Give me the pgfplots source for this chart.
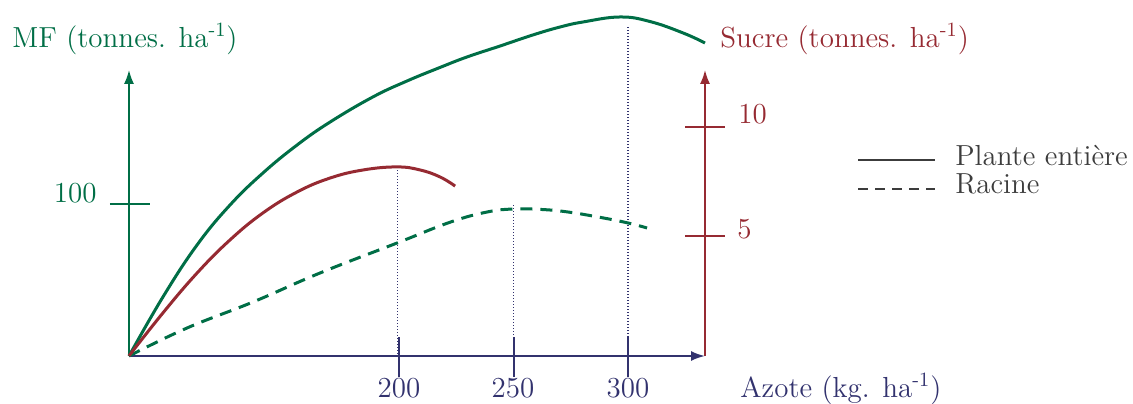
\documentclass[border=0pt]{standalone}
\usepackage{pgfplots}
\pgfplotsset{compat=1.18}
\usetikzlibrary{arrows.meta}
\definecolor{cgreen}{RGB}{0,110,70}
\definecolor{cred}{RGB}{150,42,50}
\definecolor{cnavy}{RGB}{50,50,110}
\definecolor{cgray}{RGB}{60,60,60}
\begin{document}
\begin{tikzpicture}[every node/.style={font=\fontsize{14.5}{17}\selectfont, inner sep=0pt}]
\useasboundingbox (0,0) rectangle (566.5pt,201.5pt);
\pgfplotsset{base/.style={at={(64.5pt,23.5pt)}, anchor=south west, scale only axis,
  width=288pt, height=170.5pt, xmin=82.1, xmax=333.6, axis lines=none, clip=false}}
\begin{axis}[base, ymin=0, ymax=224.3]
% drop lines
\addplot[cnavy, line width=0.75pt, dash pattern=on 0.7pt off 0.8pt] coordinates {(199.3,124.3) (199.3,0)};
\addplot[cnavy, line width=0.75pt, dash pattern=on 0.7pt off 0.8pt] coordinates {(250,99.3) (250,0)};
\addplot[cnavy, line width=0.75pt, dash pattern=on 0.7pt off 0.8pt] coordinates {(300,216.4) (300,0)};
% axes
\draw[cgreen, line width=1pt, -{Latex[length=7pt,width=5pt]}] (axis cs:82.1,0) -- (axis cs:82.1,188.2);
\draw[cgreen, line width=1pt] (axis cs:73.8,100) -- (axis cs:91.3,100);
\draw[cred, line width=1pt, -{Latex[length=7pt,width=5pt]}] (axis cs:333.6,0) -- (axis cs:333.6,188.2);
\draw[cred, line width=1pt] (axis cs:324.9,150.7) -- (axis cs:342.4,150.7);
\draw[cred, line width=1pt] (axis cs:324.9,78.9) -- (axis cs:342.4,78.9);
\draw[cnavy, line width=1pt, -{Latex[length=7pt,width=5pt]}] (axis cs:82.1,0) -- (axis cs:333.6,0);
\draw[cnavy, line width=1pt] (axis cs:200,12.5) -- (axis cs:200,-13.8);
\draw[cnavy, line width=1pt] (axis cs:250,12.5) -- (axis cs:250,-13.8);
\draw[cnavy, line width=1pt] (axis cs:300,12.5) -- (axis cs:300,-13.8);
% MF plante entiere
\addplot[cgreen, line width=1.5pt, smooth, tension=0.7] coordinates {
(82.1,0) (96.9,38.8) (111.8,73.0) (126.2,99.3) (140.6,120.4) (155.5,138.8)
(169.9,153.9) (188.6,170.4) (203.5,180.9) (217.9,189.8) (229.7,196.7) (244.1,203.9)
(258.5,211.2) (270.3,216.4) (280.3,219.7) (296.5,223.0)
(309.6,220.0) (324.0,212.5) (333.6,205.9)};
% MF racine
\addplot[cgreen, line width=1.5pt, smooth, tension=0.7, dash pattern=on 6pt off 4pt] coordinates {
(82.1,0) (107.4,18.4) (136.2,35.5) (165.5,54.6) (199.1,74.3) (222.3,88.0)
(238.4,94.7) (250,96.7) (262,96.4) (273.4,94.8) (287.8,91.2) (300,87.5) (308.3,84.2)};
\end{axis}
\begin{axis}[base, ymin=-0.505, ymax=15.14]
\addplot[cred, line width=1.5pt, smooth, tension=0.7] coordinates {
(82.1,-0.50) (96.9,1.47) (111.8,3.30) (126.2,4.82) (140.6,6.06) (155.5,7.02)
(169.9,7.66) (184.3,8.03) (199.1,8.17) (209.2,8.03) (217.9,7.71) (224.5,7.29)};
\end{axis}
% labels
\node[cgreen, anchor=base west] at (6pt,178pt) {MF (tonnes. ha\textsuperscript{-1})};
\node[cred, anchor=base west] at (360pt,178pt) {Sucre (tonnes. ha\textsuperscript{-1})};
\node[cnavy, anchor=base west] at (370pt,3pt) {Azote (kg. ha\textsuperscript{-1})};
\node[cgreen, anchor=base east] at (48.5pt,100.5pt) {100};
\node[cred, anchor=base west] at (369pt,140pt) {10};
\node[cred, anchor=base west] at (368.5pt,82.5pt) {5};
\node[cnavy, anchor=base] at (199.5pt,3pt) {200};
\node[cnavy, anchor=base] at (256.5pt,3pt) {250};
\node[cnavy, anchor=base] at (314pt,3pt) {300};
% legend
\draw[cgray, line width=1.3pt] (429pt,121.5pt) -- (467.5pt,121.5pt);
\draw[cgray, line width=1.3pt, dash pattern=on 5pt off 3.5pt] (429pt,107pt) -- (467.5pt,107pt);
\node[cgray, anchor=base west] at (477.5pt,119pt) {Plante entière};
\node[cgray, anchor=base west] at (477.5pt,105pt) {Racine};
\end{tikzpicture}
\end{document}
